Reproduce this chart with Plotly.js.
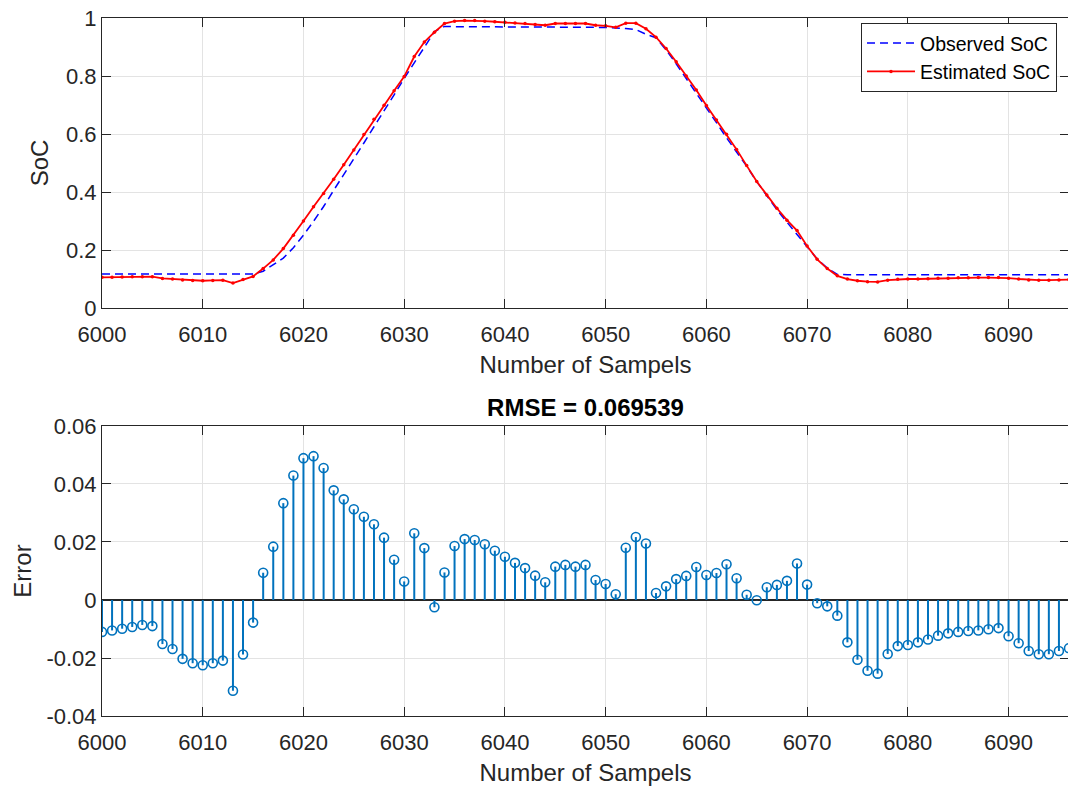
<!DOCTYPE html>
<html>
<head>
<meta charset="utf-8">
<script src="https://cdn.plot.ly/plotly-3.0.1.min.js"></script>
<style>html,body{margin:0;padding:0;overflow:hidden;background:#fff}#chart{width:1069px;height:786px}</style>
</head>
<body>
<div id="chart"></div>
<script>
const samples = [6000,6001,6002,6003,6004,6005,6006,6007,6008,6009,6010,6011,6012,6013,6014,6015,6016,6017,6018,6019,
6020,6021,6022,6023,6024,6025,6026,6027,6028,6029,6030,6031,6032,6033,6034,6035,6036,6037,6038,6039,
6040,6041,6042,6043,6044,6045,6046,6047,6048,6049,6050,6051,6052,6053,6054,6055,6056,6057,6058,6059,
6060,6061,6062,6063,6064,6065,6066,6067,6068,6069,6070,6071,6072,6073,6074,6075,6076,6077,6078,6079,
6080,6081,6082,6083,6084,6085,6086,6087,6088,6089,6090,6091,6092,6093,6094,6095,6096];

const observedSoC = [0.117,0.117,0.117,0.117,0.117,0.117,0.117,0.117,0.117,0.117,0.117,0.117,0.117,0.117,0.117,0.117,
0.127,0.148,0.172,0.208,0.251,0.299,0.350,0.406,0.459,0.514,0.569,0.625,0.678,0.735,0.792,0.844,0.899,0.953,0.971,
0.970,0.970,0.970,0.970,0.970,0.970,0.970,0.970,0.970,0.969,0.969,0.969,0.969,0.969,0.968,0.967,0.966,0.964,0.960,0.944,
0.932,0.890,0.842,0.792,0.741,0.689,0.639,0.587,0.540,0.489,0.436,0.386,0.339,0.296,0.254,0.209,0.169,0.138,0.116,
0.115,0.115,0.115,0.115,0.115,0.115,0.115,0.115,0.115,0.115,0.115,0.115,0.115,0.115,0.115,0.115,0.115,0.115,0.115,0.115,0.115,0.115,0.115];

const estimatedSoC = [0.106,0.1065,0.107,0.108,0.108,0.108,0.102,0.100,0.097,0.095,0.094,0.095,0.096,0.086,0.098,0.109,
0.136,0.166,0.205,0.251,0.300,0.349,0.395,0.444,0.494,0.545,0.598,0.651,0.699,0.749,0.798,0.867,0.917,0.951,0.981,
0.989,0.991,0.991,0.989,0.987,0.985,0.983,0.981,0.978,0.975,
0.981,0.981,0.981,0.981,0.975,0.973,0.968,0.982,0.982,0.963,
0.934,0.895,0.849,0.800,0.752,0.698,0.648,0.599,0.547,0.491,
0.436,0.390,0.344,0.303,0.267,0.214,0.168,0.136,0.111,
0.100,0.094,0.091,0.090,0.096,0.099,0.100,0.100,0.101,0.103,0.103,0.104,0.104,0.105,0.105,0.105,0.103,0.100,0.097,0.096,0.096,0.097,0.098];

const errors = [-0.0110,-0.0105,-0.0099,-0.0093,-0.0086,-0.0090,-0.0152,-0.0169,-0.0203,-0.0218,
-0.0225,-0.0218,-0.0209,-0.0313,-0.0188,-0.0078,0.0094,0.0184,0.0334,0.0429,
0.0489,0.0496,0.0455,0.0378,0.0347,0.0313,0.0287,0.0261,0.0215,0.0139,
0.0064,0.0230,0.0179,-0.0025,0.0095,0.0186,0.0210,0.0207,0.0192,0.0170,
0.0149,0.0128,0.0110,0.0084,0.0061,0.0115,0.0121,0.0115,0.0121,0.0069,
0.0055,0.0020,0.0180,0.0217,0.0195,0.0024,0.0047,0.0072,0.0083,0.0114,
0.0086,0.0093,0.0123,0.0075,0.0018,-0.0001,0.0044,0.0052,0.0066,0.0126,
0.0053,-0.0011,-0.0022,-0.0054,-0.0146,-0.0206,-0.0244,-0.0254,-0.0186,-0.0159,
-0.0155,-0.0146,-0.0136,-0.0123,-0.0115,-0.0110,-0.0107,-0.0105,-0.0101,-0.0097,
-0.0125,-0.0149,-0.0176,-0.0187,-0.0187,-0.0176,-0.0166];

const xTickVals = [6000,6010,6020,6030,6040,6050,6060,6070,6080,6090];
const xTickText = ['6000','6010','6020','6030','6040','6050','6060','6070','6080','6090'];
const socTickVals = [0,0.2,0.4,0.6,0.8,1];
const socTickText = ['0','0.2','0.4','0.6','0.8','1'];
const errTickVals = [-0.04,-0.02,0,0.02,0.04,0.06];
const errTickText = ['-0.04','-0.02','0','0.02','0.04','0.06'];
const rmseText = 'RMSE = 0.069539';

// stems built from the error data
const stemX = [], stemY = [];
for (let i = 0; i < samples.length; i++) {
  stemX.push(samples[i], samples[i], null);
  stemY.push(0, errors[i], null);
}

const FONT = 'Liberation Sans, Arial, sans-serif';
const AX = '#262626';
const BLUE = '#0072BD';

const traces = [
  {x: samples, y: observedSoC, xaxis: 'x', yaxis: 'y', type: 'scatter', mode: 'lines',
   name: 'Observed SoC', line: {color: '#0000FF', width: 1.5, dash: '8px,5px'}},
  {x: samples, y: estimatedSoC, xaxis: 'x', yaxis: 'y', type: 'scatter', mode: 'lines+markers',
   name: 'Estimated SoC', line: {color: '#FF0000', width: 1.8},
   marker: {color: '#FF0000', size: 3.5, symbol: 'circle'}},
  {x: stemX, y: stemY, xaxis: 'x2', yaxis: 'y2', type: 'scatter', mode: 'lines',
   showlegend: false, line: {color: BLUE, width: 2}},
  {x: samples, y: errors, xaxis: 'x2', yaxis: 'y2', type: 'scatter', mode: 'markers',
   showlegend: false, marker: {color: BLUE, size: 9, symbol: 'circle-open', line: {color: BLUE, width: 1.6}}}
];

function xAxis(anchor) {
  return {
    anchor: anchor, range: [6000, 6096], tickvals: xTickVals, ticktext: xTickText,
    ticks: 'inside', ticklen: 9, tickwidth: 1, tickcolor: AX,
    showline: true, linecolor: AX, linewidth: 1, mirror: 'ticks',
    showgrid: true, gridcolor: '#e3e3e3', gridwidth: 1, zeroline: false,
    tickfont: {family: FONT, size: 22, color: AX}, ticklabelstandoff: 7,
    title: {text: 'Number of Sampels', font: {family: FONT, size: 24, color: AX}, standoff: 9},
    automargin: false
  };
}

const layout = {
  width: 1069, height: 786,
  margin: {l: 102, r: 0, t: 18, b: 70},
  paper_bgcolor: '#ffffff', plot_bgcolor: '#ffffff',
  showlegend: true,
  xaxis: xAxis('y'),
  xaxis2: xAxis('y2'),
  yaxis: {
    domain: [0.5845, 1], anchor: 'x', range: [0, 1], tickvals: socTickVals, ticktext: socTickText,
    ticks: 'inside', ticklen: 9, tickwidth: 1, tickcolor: AX,
    showline: true, linecolor: AX, linewidth: 1, mirror: 'ticks',
    showgrid: true, gridcolor: '#e3e3e3', gridwidth: 1, zeroline: false,
    tickfont: {family: FONT, size: 22, color: AX},
    title: {text: 'SoC', font: {family: FONT, size: 24, color: AX}, standoff: 10},
    automargin: false
  },
  yaxis2: {
    domain: [0, 0.4155], anchor: 'x2', range: [-0.04, 0.06], tickvals: errTickVals, ticktext: errTickText,
    ticks: 'inside', ticklen: 9, tickwidth: 1, tickcolor: AX,
    showline: true, linecolor: AX, linewidth: 1, mirror: 'ticks',
    showgrid: true, gridcolor: '#e3e3e3', gridwidth: 1,
    zeroline: true, zerolinecolor: AX, zerolinewidth: 1.2,
    tickfont: {family: FONT, size: 22, color: AX},
    title: {text: 'Error', font: {family: FONT, size: 24, color: AX}, standoff: 8},
    automargin: false
  },
  title: {
    text: '<b>' + rmseText + '</b>', x: 0.5, xref: 'paper', xanchor: 'center',
    y: 0.4413, yref: 'paper', yanchor: 'middle',
    font: {family: FONT, size: 24, color: '#000000'}
  },
  legend: {
    x: 0.9876, xanchor: 'right', y: 0.993, yanchor: 'top',
    bgcolor: '#ffffff', bordercolor: AX, borderwidth: 1,
    font: {family: FONT, size: 19.5, color: '#000000'},
    tracegroupgap: 0, itemwidth: 48
  }
};

Plotly.newPlot('chart', traces, layout, {staticPlot: true, displayModeBar: false});
</script>
</body>
</html>
